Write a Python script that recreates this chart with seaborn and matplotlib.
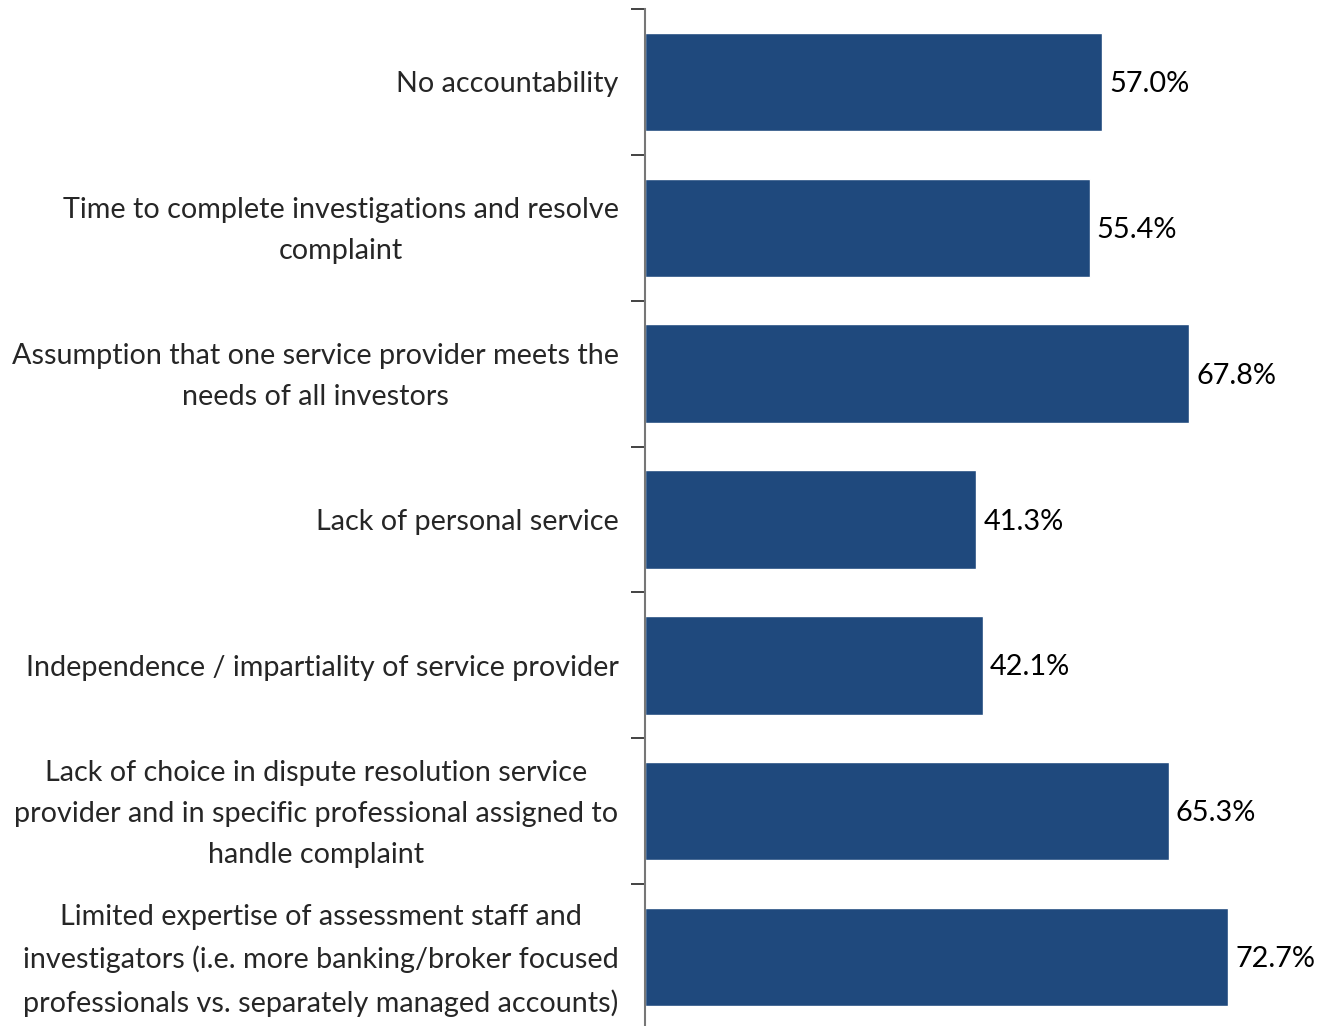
import matplotlib
matplotlib.use("Agg")
import matplotlib.pyplot as plt
import matplotlib.transforms as mtransforms
import seaborn as sns
import pandas as pd

categories = [
    "No accountability",
    "Time to complete investigations and resolve\ncomplaint",
    "Assumption that one service provider meets the\nneeds of all investors",
    "Lack of personal service",
    "Independence / impartiality of service provider",
    "Lack of choice in dispute resolution service\nprovider and in specific professional assigned to\nhandle complaint",
    "Limited expertise of assessment staff and\ninvestigators (i.e. more banking/broker focused\nprofessionals vs. separately managed accounts)",
]
values = [57.0, 55.4, 67.8, 41.3, 42.1, 65.3, 72.7]

df = pd.DataFrame({"category": categories, "value": values})

sns.set_style("white")
plt.rcParams["font.family"] = ["Lato", "DejaVu Sans"]

fig = plt.figure(figsize=(13.23, 10.26), dpi=100)
W, H = 1323, 1026
x0, x1 = 645, 1287
y_top, y_bot = 9, 1030
ax = fig.add_axes([x0 / W, 1 - y_bot / H, (x1 - x0) / W, (y_bot - y_top) / H])

sns.barplot(data=df, x="value", y="category", orient="h", color="#1F497D",
            saturation=1, width=0.675, ax=ax)

ax.set_xlim(0, 80)
ax.set_ylim(len(categories) - 0.5, -0.5)
ax.set_xlabel("")
ax.set_ylabel("")
ax.set_xticks([])

for i, v in enumerate(values):
    ax.annotate(f"{v:.1f}%", xy=(v, i), xytext=(5, -1.5), textcoords="offset points",
                ha="left", va="center", fontsize=20.8, color="black", clip_on=False)

# category labels, ticks placed between bars
ax.set_yticks(range(len(categories)))
ax.set_yticklabels(categories, fontsize=20.7, multialignment="center", linespacing=1.70)
ax.tick_params(axis="y", which="major", length=0, pad=19)
ax.set_yticks([i - 0.5 for i in range(len(categories) + 1)], minor=True)
ax.tick_params(axis="y", which="minor", length=10, width=1.2, color="#222222", left=True)

# nudge multi-line labels up so each block is centred on its bar
for lbl in ax.get_yticklabels():
    if "\n" in lbl.get_text():
        lbl.set_transform(lbl.get_transform() +
                          mtransforms.ScaledTranslation(0, 7 / 100, fig.dpi_scale_trans))

for s in ["top", "right", "bottom"]:
    ax.spines[s].set_visible(False)
ax.spines["left"].set_color("#777777")
ax.spines["left"].set_linewidth(1.5)

fig.savefig("out.png", dpi=100)
